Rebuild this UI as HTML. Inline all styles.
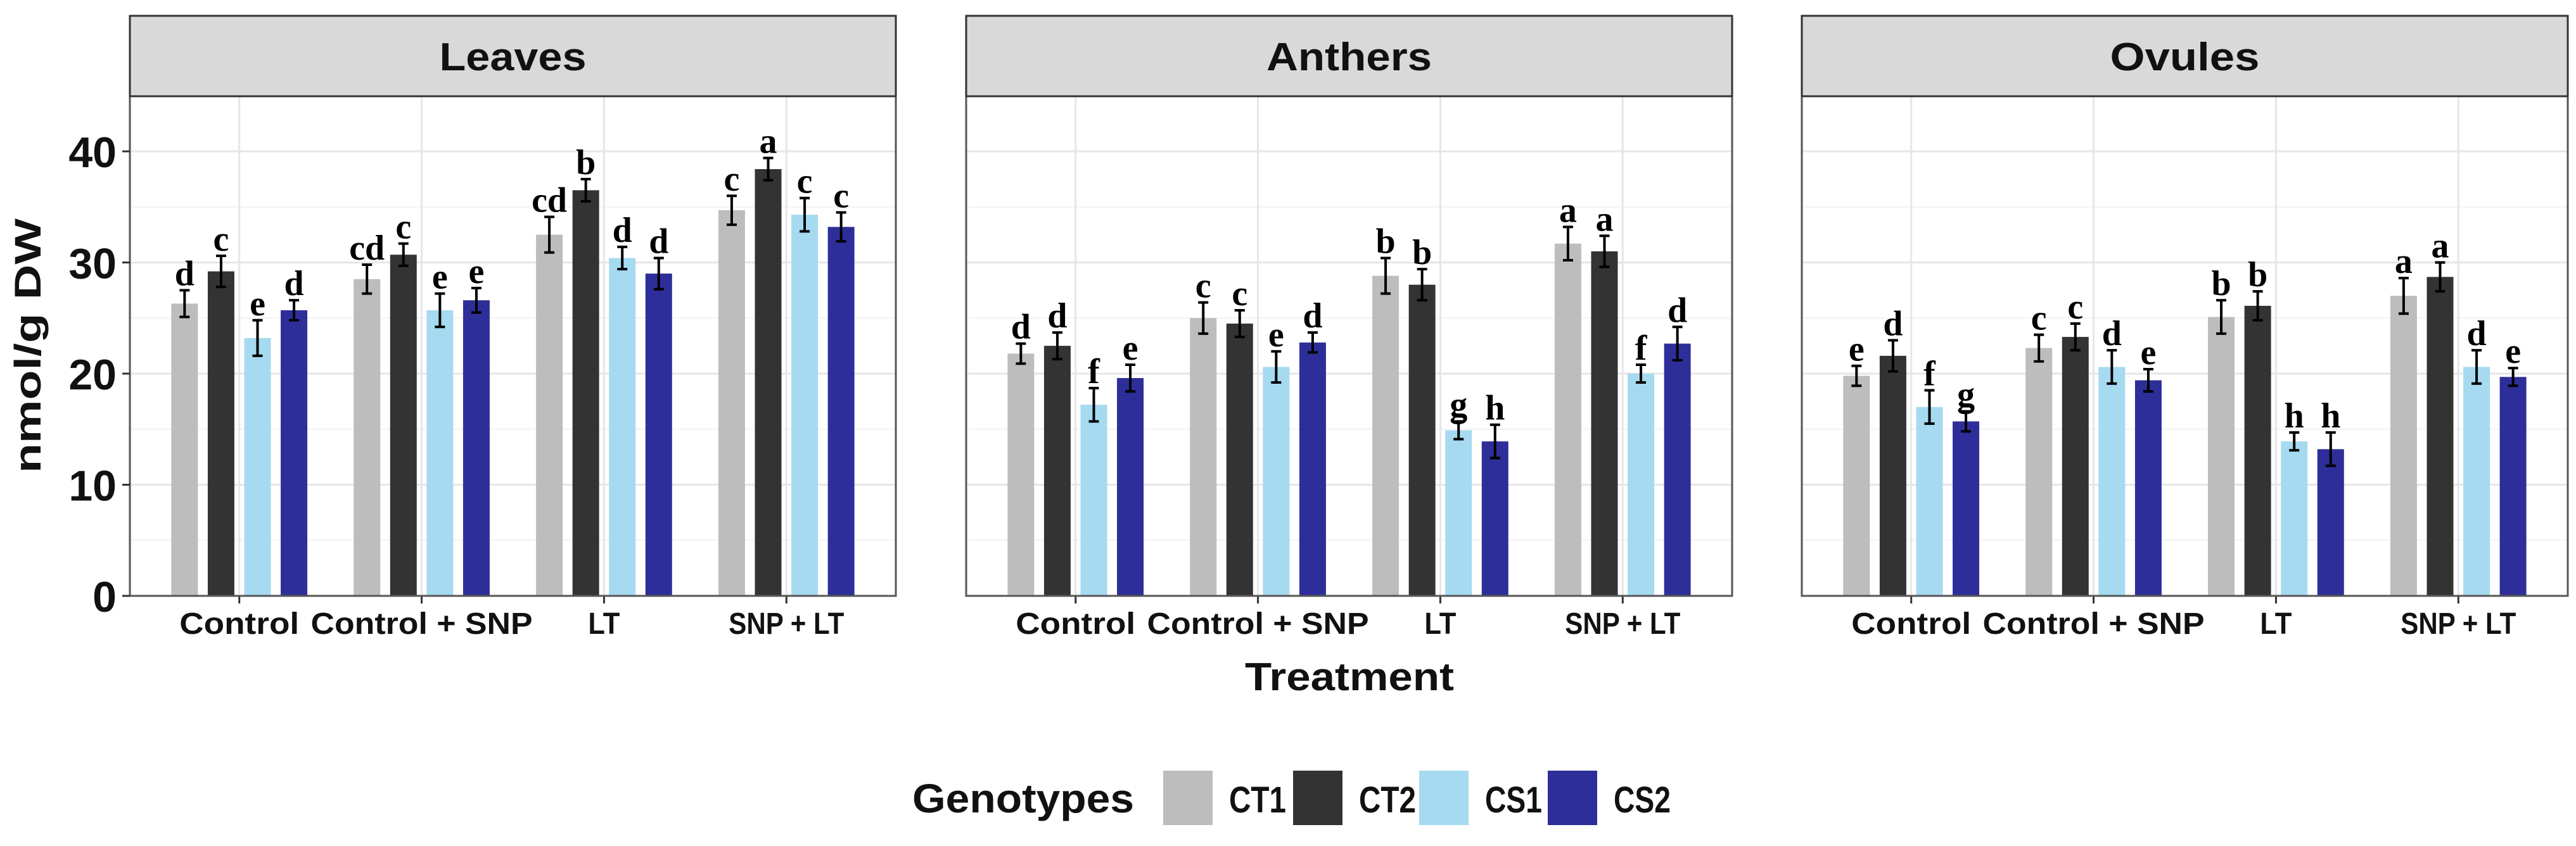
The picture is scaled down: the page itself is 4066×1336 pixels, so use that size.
<!DOCTYPE html>
<html><head><meta charset="utf-8"><style>
html,body{margin:0;padding:0;background:#fff;}
svg{display:block;}
</style></head><body>
<svg id="chart" xmlns="http://www.w3.org/2000/svg" width="4066" height="1336" viewBox="0 0 4066 1336" font-family="Liberation Sans, Arial, sans-serif"></svg>
<script>
const panels = ["Leaves","Anthers","Ovules"];
const categories = ["Control","Control + SNP","LT","SNP + LT"];
const genotypes = ["CT1","CT2","CS1","CS2"];
const yTicks = [0,10,20,30,40];
const leavesValues = [[26.3,29.2,23.2,25.7],[28.5,30.7,25.7,26.6],[32.5,36.5,30.4,29.0],[34.7,38.4,34.3,33.2]];
const leavesErrors = [[1.2,1.4,1.6,0.9],[1.3,1.0,1.5,1.1],[1.6,1.0,1.0,1.4],[1.3,1.0,1.5,1.3]];
const leavesLetters = [["d","c","e","d"],["cd","c","e","e"],["cd","b","d","d"],["c","a","c","c"]];
const anthersValues = [[21.8,22.5,17.2,19.6],[25.0,24.5,20.6,22.8],[28.8,28.0,14.9,13.9],[31.7,31.0,20.0,22.7]];
const anthersErrors = [[0.9,1.2,1.5,1.2],[1.4,1.2,1.4,0.9],[1.6,1.4,0.8,1.5],[1.5,1.4,0.8,1.5]];
const anthersLetters = [["d","d","f","e"],["c","c","e","d"],["b","b","g","h"],["a","a","f","d"]];
const ovulesValues = [[19.8,21.6,17.0,15.7],[22.3,23.3,20.6,19.4],[25.1,26.1,13.9,13.2],[27.0,28.7,20.6,19.7]];
const ovulesErrors = [[0.9,1.4,1.5,0.9],[1.2,1.2,1.5,1.0],[1.5,1.3,0.8,1.5],[1.6,1.3,1.5,0.8]];
const ovulesLetters = [["e","d","f","g"],["c","c","d","e"],["b","b","h","h"],["a","a","d","e"]];

const NS = "http://www.w3.org/2000/svg";
const svg = document.getElementById("chart");
function mk(tag, attrs, parent){const e=document.createElementNS(NS,tag);for(const k in attrs)e.setAttribute(k,attrs[k]);(parent||svg).appendChild(e);return e;}
const colors=["#bdbdbd","#333333","#a6daf0","#2e2e9a"];
const panelX=[205,1525,2844], panelW=1209, plotTop=152, plotBottom=941, stripTop=25;
function y(v){return plotBottom-v*17.55;}
const allVals=[leavesValues,anthersValues,ovulesValues];
const allErr=[leavesErrors,anthersErrors,ovulesErrors];
const allLet=[leavesLetters,anthersLetters,ovulesLetters];
const catLen=[189,350,50,182];
const stripLen=[232,261,236];

panels.forEach((p,pi)=>{
  const x0=panelX[pi];
  const unit=panelW/4.2;
  function xc(ci){return x0+unit*(0.6+ci);}
  const g=mk("g",{});
  
  
  for(let v=5;v<=45;v+=10){mk("line",{x1:x0,x2:x0+panelW,y1:y(v),y2:y(v),stroke:"#f2f2f2","stroke-width":2},g);}
  yTicks.forEach(v=>{const l=mk("line",{x1:x0,x2:x0+panelW,y1:y(v),y2:y(v),stroke:"#e6e6e6","stroke-width":3},g);
    });
  categories.forEach((c,ci)=>{mk("line",{x1:xc(ci),x2:xc(ci),y1:plotTop,y2:plotBottom,stroke:"#e6e6e6","stroke-width":3},g);});
  categories.forEach((c,ci)=>{
    genotypes.forEach((gn,gi)=>{
      const v=allVals[pi][ci][gi], e=allErr[pi][ci][gi];
      const cx=xc(ci)+(gi-1.5)*unit*0.2;
      const bw=42;
      const r=mk("rect",{x:cx-bw/2,y:y(v),width:bw,height:plotBottom-y(v),fill:colors[gi]},g);
      
      
      const eb=mk("path",{d:`M${cx-8},${y(v+e)}H${cx+8}M${cx},${y(v+e)}V${y(v-e)}M${cx-8},${y(v-e)}H${cx+8}`,stroke:"#000","stroke-width":4,fill:"none"},g);
      
      
      const t=mk("text",{x:cx,y:y(v+e)-8,"text-anchor":"middle","font-family":"Liberation Serif, serif","font-weight":"bold","font-size":56,fill:"#000"},g);
      t.textContent=allLet[pi][ci][gi];
      
      
    });
    mk("line",{x1:xc(ci),x2:xc(ci),y1:plotBottom,y2:plotBottom+12,stroke:"#333","stroke-width":3},g);
    const tl=mk("text",{x:xc(ci),y:1001,"text-anchor":"middle","font-weight":"bold","font-size":48,fill:"#111",textLength:catLen[ci],lengthAdjust:"spacingAndGlyphs"},g);
    tl.textContent=c;
    
    
  });
  mk("rect",{x:x0,y:plotTop,width:panelW,height:plotBottom-plotTop,fill:"none",stroke:"#555","stroke-width":3},g);
  const s=mk("rect",{x:x0,y:stripTop,width:panelW,height:plotTop-stripTop,fill:"#d9d9d9",stroke:"#333","stroke-width":3},g);
  
  
  const st=mk("text",{x:x0+panelW/2,y:111,"text-anchor":"middle","font-weight":"bold","font-size":62,fill:"#111",textLength:stripLen[pi],lengthAdjust:"spacingAndGlyphs"},g);
  st.textContent=p;
  
  
});
yTicks.forEach(v=>{
  mk("line",{x1:193,x2:205,y1:y(v),y2:y(v),stroke:"#333","stroke-width":3});
  const t=mk("text",{x:184,y:y(v)+25,"text-anchor":"end","font-weight":"bold","font-size":68,fill:"#111"});
  t.textContent=v;
  
  
});
const yt=mk("text",{x:0,y:0,transform:"translate(64,546) rotate(-90)","text-anchor":"middle","font-weight":"bold","font-size":58,fill:"#111",textLength:402,lengthAdjust:"spacingAndGlyphs"});
yt.textContent="nmol/g DW";


const xt=mk("text",{x:2130,y:1090,"text-anchor":"middle","font-weight":"bold","font-size":62,fill:"#111",textLength:330,lengthAdjust:"spacingAndGlyphs"});
xt.textContent="Treatment";


const lt=mk("text",{x:1440,y:1283,"font-weight":"bold","font-size":64,fill:"#111",textLength:350,lengthAdjust:"spacingAndGlyphs"});
lt.textContent="Genotypes";


const legX=[1836,2041,2240,2443];
genotypes.forEach((gn,gi)=>{
  const r=mk("rect",{x:legX[gi],y:1217,width:78,height:86,fill:colors[gi]});
  
  
  const t=mk("text",{x:legX[gi]+104,y:1283,"font-weight":"bold","font-size":58,fill:"#111",textLength:90,lengthAdjust:"spacingAndGlyphs"});
  t.textContent=gn;
  
  
});
</script>
</body></html>
